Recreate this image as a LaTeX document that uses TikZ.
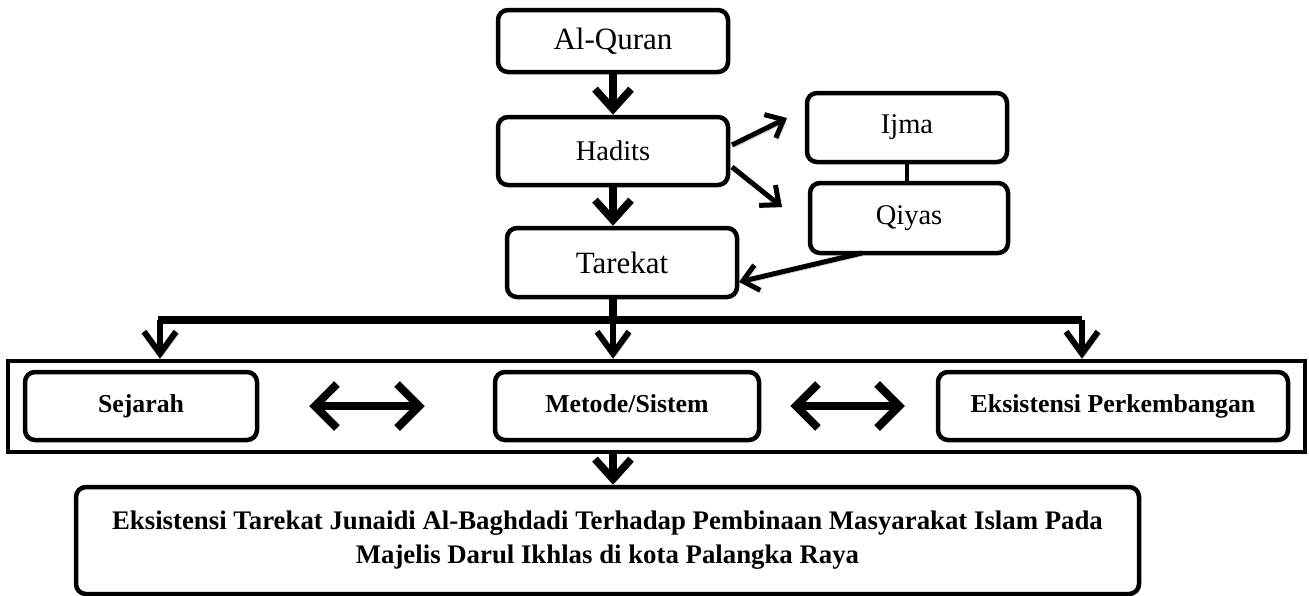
\documentclass[tikz,border=0pt]{standalone}
\usepackage{fontspec}
\setmainfont{Liberation Serif}
\usetikzlibrary{arrows.meta}
\tikzset{box/.style={draw,line width=4.5pt,rounded corners=10pt,fill=white,inner sep=0pt,align=center}}
\tikzset{big/.style={box,font=\fontsize{31}{36}\selectfont}}
\tikzset{mid/.style={box,font=\fontsize{28.5}{33}\selectfont}}
\tikzset{sub/.style={box,font=\bfseries\fontsize{25.8}{33}\selectfont,text height=17.5pt,text depth=5.5pt}}
\tikzset{last/.style={box,font=\bfseries\fontsize{26.8}{34}\selectfont}}
\tikzset{shadow/.style={preaction={draw=gray!55,transform canvas={shift={(2.5pt,-2.5pt)}}}}}
\tikzset{down/.style={shadow,line width=7.5pt,-{Straight Barb[length=20pt,width=36pt,line join=miter]}}}
\tikzset{drop/.style={shadow,line width=6pt,-{Straight Barb[length=22pt,width=32pt,line join=miter]}}}
\tikzset{side/.style={shadow,line width=5pt,-{Straight Barb[length=15pt,width=26pt]}}}
\tikzset{both/.style={shadow,line width=8pt,{Straight Barb[length=22pt,width=44pt]}-{Straight Barb[length=22pt,width=44pt]}}}

\begin{document}
\begin{tikzpicture}[x=1pt,y=-1pt]
		\useasboundingbox (0,0) rectangle (1309,595);

		\node[big,minimum width=230pt,minimum height=62pt](quran) at (613,41){Al-Quran};
		\node[mid,minimum width=230pt,minimum height=68pt](hadits) at (613,151){Hadits};
		\node[mid,minimum width=200pt,minimum height=69pt](ijma) at (907,127.5){Ijma};
		\node[mid,minimum width=198pt,minimum height=70pt](qiyas) at (909,218){Qiyas};
		\node[big,minimum width=230pt,minimum height=69pt](tarekat) at (622,262.5){Tarekat};

		\node[draw,line width=4.5pt,minimum width=1297pt,minimum height=91pt](frame) at (656.5,406.5){};
		\node[sub,minimum width=232pt,minimum height=68pt](sejarah) at (141,406){Sejarah};
		\node[sub,minimum width=264pt,minimum height=68pt](metode) at (627,406){Metode/Sistem};
		\node[sub,minimum width=350pt,minimum height=68pt](eksis) at (1113,406){Eksistensi Perkembangan};

		\node[last,minimum width=1063pt,minimum height=107pt](hasil) at (607.5,540.5){Eksistensi Tarekat Junaidi Al-Baghdadi Terhadap Pembinaan Masyarakat Islam Pada\\Majelis Darul Ikhlas di kota Palangka Raya};

		\coordinate(barL) at (158,320);
		\coordinate(barM) at (613,320);
		\coordinate(barR) at (1082,320);
		\coordinate(ijmaIn) at (787,118);
		\coordinate(qiyasIn) at (782,207);
		\coordinate(qiyasOut) at (862,253);
		\coordinate(tarekatIn) at (739,282);

		\draw[down] (quran.south) -- (hadits.north);
		\draw[down] (hadits.south) -- (hadits.south |- tarekat.north);
		\draw[side] (732,145) -- (ijmaIn);
		\draw[side] (732,167) -- (qiyasIn);
		\draw[line width=4pt] (ijma.south) -- (ijma.south |- qiyas.north);
		\draw[side] (qiyasOut) -- (tarekatIn);

		\draw[line width=8pt] (tarekat.south -| barM) -- (barM);
		\draw[line width=8pt] (barL) -- (barR);
		\draw[drop] ([xshift=2pt]barL) -- ([xshift=2pt]barL |- frame.north);
		\draw[drop] (barM) -- (barM |- frame.north);
		\draw[drop] (barR) -- (barR |- frame.north);

		\draw[both,shorten <=50pt,shorten >=68pt] (sejarah.east) -- (metode.west);
		\draw[both,shorten <=29pt,shorten >=31pt] (metode.east) -- (eksis.west);

		\draw[down] (barM |- frame.south) -- (barM |- hasil.north);
\end{tikzpicture}
\end{document}
